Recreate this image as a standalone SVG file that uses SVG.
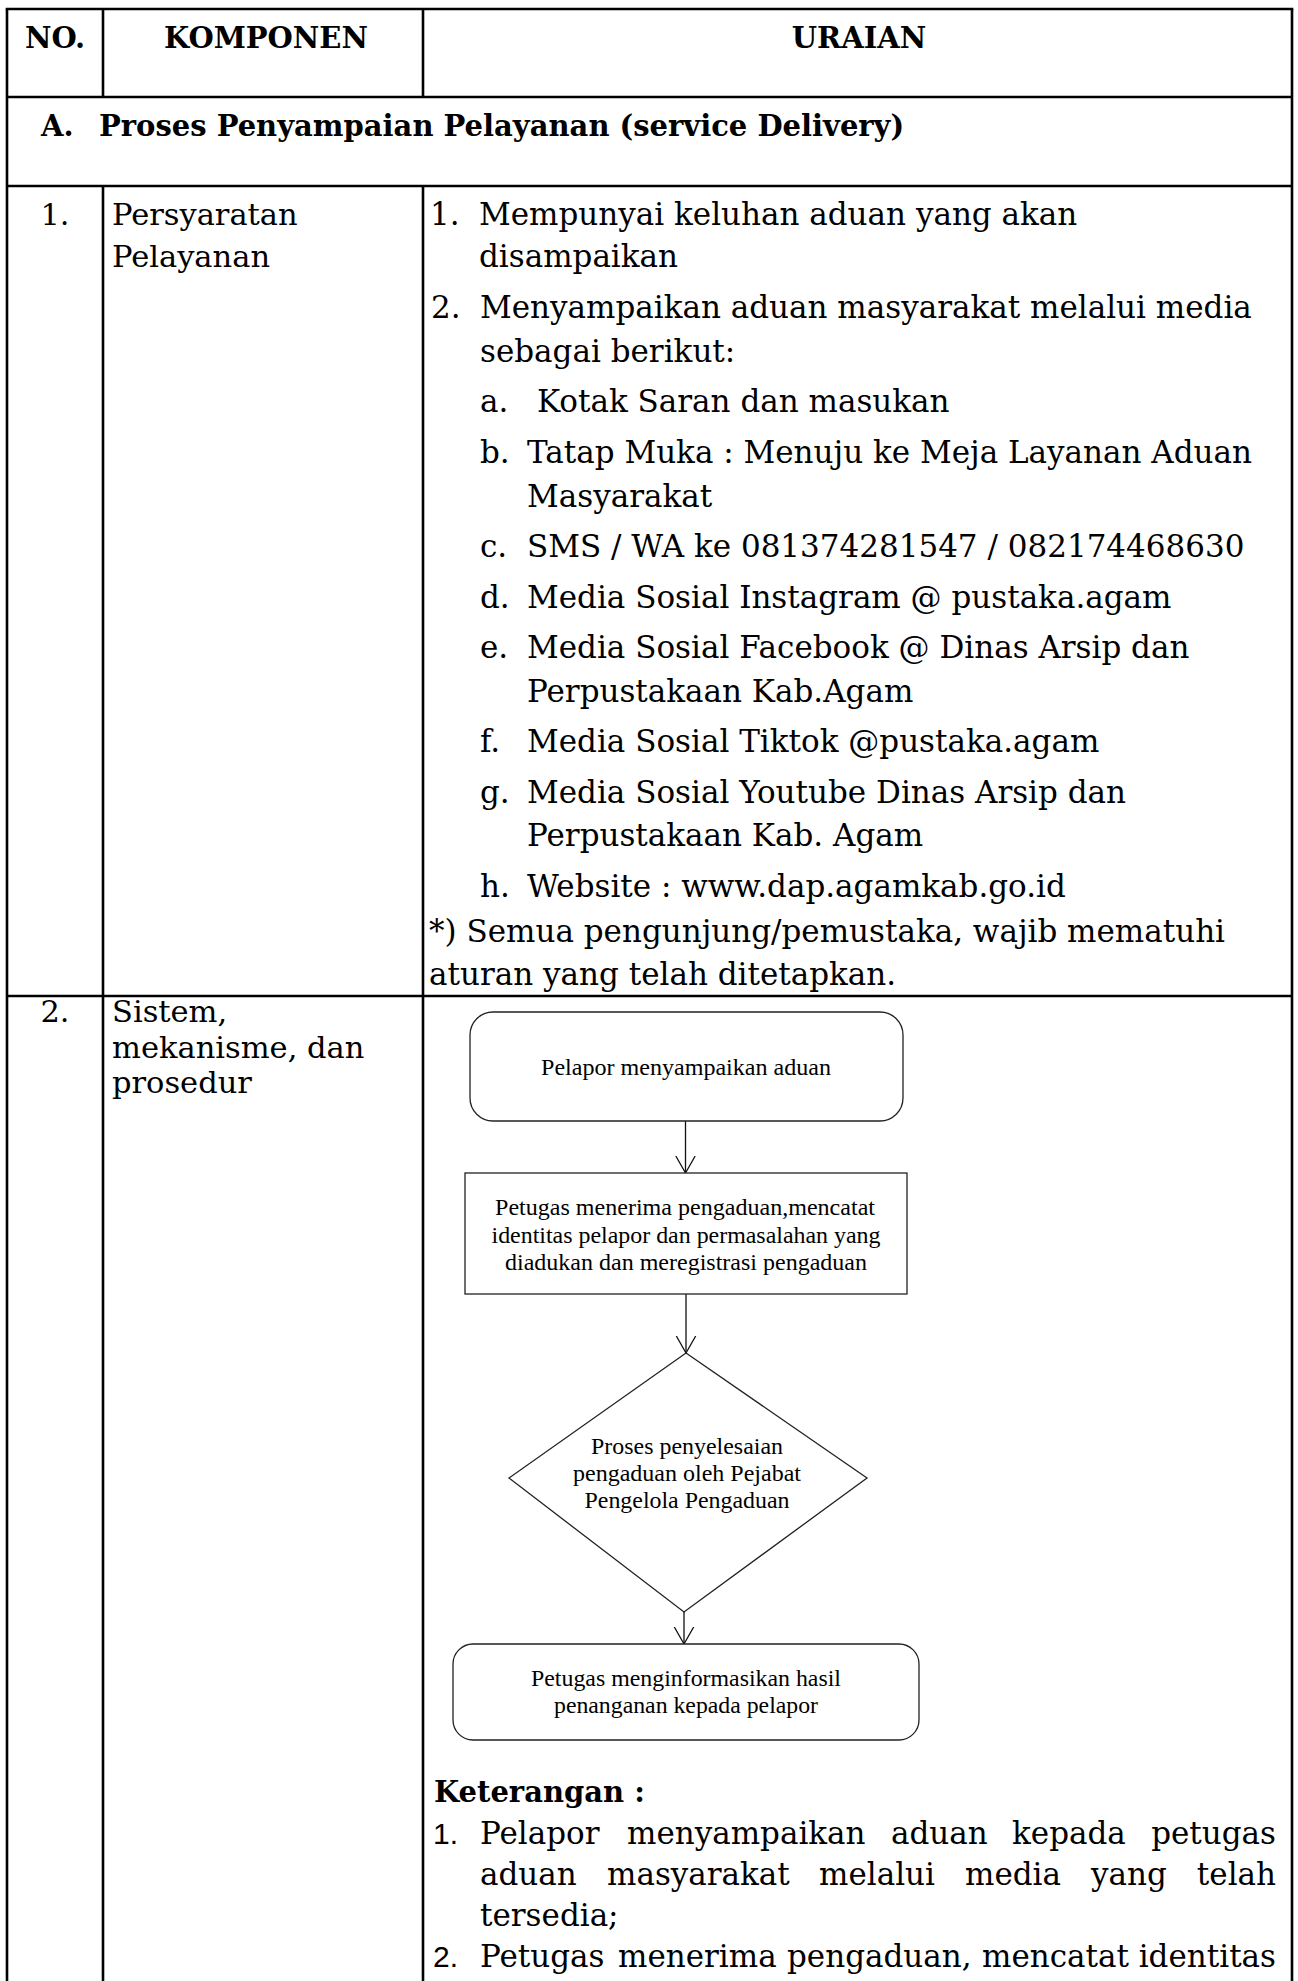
<svg xmlns="http://www.w3.org/2000/svg" width="1298" height="1981" viewBox="0 0 1298 1981">
  <style>
    .grid { stroke: #000; stroke-width: 2.6; fill: none; }
    .t { font-family: "DejaVu Serif", "Liberation Serif", serif; font-size: 31px; fill: #000; }
    .lbl { font-size: 30.5px; }
    .b { font-weight: bold; font-size: 29px; }
    .mid { text-anchor: middle; }
    .end { text-anchor: end; }
    .num { font-family: "Liberation Sans", Arial, sans-serif; font-size: 30px; fill: #000; }
    .fc { font-family: "Liberation Serif", "Times New Roman", serif; font-size: 23.5px; fill: #000; text-anchor: middle; }
    .node { fill: #fff; stroke: #222; stroke-width: 1.3; }
    .edge { stroke: #111; stroke-width: 1.3; fill: none; marker-end: url(#open); }
  </style>
  <defs>
    <marker id="open" markerUnits="userSpaceOnUse" markerWidth="20" markerHeight="22" viewBox="0 0 20 22" refX="17.5" refY="11" orient="auto">
      <path d="M0.5,1.3 L17.5,11 L0.5,20.7" fill="none" stroke="#111" stroke-width="1.3"/>
    </marker>
  </defs>

  <rect width="1298" height="1981" fill="#fff"/>

  <!-- table rules -->
  <g id="table" class="grid">
    <line x1="5.7" y1="9" x2="1293.3" y2="9"/>
    <line x1="7" y1="9" x2="7" y2="1990"/>
    <line x1="1292" y1="9" x2="1292" y2="1990"/>
    <line x1="7" y1="97" x2="1292" y2="97"/>
    <line x1="7" y1="186" x2="1292" y2="186"/>
    <line x1="7" y1="996" x2="1292" y2="996"/>
    <line x1="103" y1="9" x2="103" y2="97"/>
    <line x1="423" y1="9" x2="423" y2="97"/>
    <line x1="103" y1="186" x2="103" y2="1990"/>
    <line x1="423" y1="186" x2="423" y2="1990"/>
  </g>

  <!-- header row -->
  <g id="header" class="t b">
    <text x="55" y="48" class="mid">NO.</text>
    <text x="266" y="48" class="mid">KOMPONEN</text>
    <text x="859" y="48" class="mid">URAIAN</text>
  </g>

  <!-- section heading -->
  <g id="section-a" class="t b">
    <text x="41" y="136">A.</text>
    <text x="99" y="136">Proses Penyampaian Pelayanan (service Delivery)</text>
  </g>

  <!-- row 1: requirements -->
  <g id="row-1" class="t">
    <text x="55" y="225" class="mid lbl">1.</text>
    <text x="112" y="225" class="lbl">Persyaratan</text>
    <text x="112" y="267" class="lbl">Pelayanan</text>

    <text x="430" y="225">1.</text>
    <text x="479" y="225">Mempunyai keluhan aduan yang akan</text>
    <text x="479" y="267">disampaikan</text>

    <text x="431" y="318">2.</text>
    <text x="480" y="318">Menyampaikan aduan masyarakat melalui media</text>
    <text x="480" y="362">sebagai berikut:</text>

    <text x="480" y="412">a.</text>
    <text x="537" y="412">Kotak Saran dan masukan</text>
    <text x="480" y="463">b.</text>
    <text x="527" y="463">Tatap Muka : Menuju ke Meja Layanan Aduan</text>
    <text x="527" y="507">Masyarakat</text>
    <text x="480" y="557">c.</text>
    <text x="527" y="557">SMS / WA ke 081374281547 / 082174468630</text>
    <text x="480" y="608">d.</text>
    <text x="527" y="608">Media Sosial Instagram @ pustaka.agam</text>
    <text x="480" y="658">e.</text>
    <text x="527" y="658">Media Sosial Facebook @ Dinas Arsip dan</text>
    <text x="527" y="702">Perpustakaan Kab.Agam</text>
    <text x="480" y="752">f.</text>
    <text x="527" y="752">Media Sosial Tiktok @pustaka.agam</text>
    <text x="480" y="803">g.</text>
    <text x="527" y="803">Media Sosial Youtube Dinas Arsip dan</text>
    <text x="527" y="846">Perpustakaan Kab. Agam</text>
    <text x="480" y="897">h.</text>
    <text x="527" y="897">Website : www.dap.agamkab.go.id</text>

    <text x="429" y="942">*) Semua pengunjung/pemustaka, wajib mematuhi</text>
    <text x="429" y="985">aturan yang telah ditetapkan.</text>
  </g>

  <!-- row 2: system, mechanism and procedure -->
  <g id="row-2" class="t lbl">
    <text x="55" y="1022" class="mid">2.</text>
    <text x="112" y="1022">Sistem,</text>
    <text x="112" y="1058">mekanisme, dan</text>
    <text x="112" y="1093">prosedur</text>
  </g>

  <!-- flow connectors -->
  <g id="connectors">
    <line class="edge" x1="685.5" y1="1121" x2="685.5" y2="1173"/>
    <line class="edge" x1="686" y1="1294" x2="686" y2="1353"/>
    <line class="edge" x1="684" y1="1612" x2="684" y2="1644"/>
  </g>

  <!-- flow nodes -->
  <g id="node-report">
    <rect class="node" x="470" y="1012" width="433" height="109" rx="23" ry="23"/>
    <text class="fc" x="686" y="1075" textLength="290" lengthAdjust="spacingAndGlyphs">Pelapor menyampaikan aduan</text>
  </g>

  <g id="node-register">
    <rect class="node" x="465" y="1173" width="442" height="121"/>
    <text class="fc" x="685" y="1215" textLength="380" lengthAdjust="spacingAndGlyphs">Petugas menerima pengaduan,mencatat</text>
    <text class="fc" x="686" y="1243" textLength="389" lengthAdjust="spacingAndGlyphs">identitas pelapor dan permasalahan yang</text>
    <text class="fc" x="686" y="1270" textLength="362" lengthAdjust="spacingAndGlyphs">diadukan dan meregistrasi pengaduan</text>
  </g>

  <g id="node-resolve">
    <polygon class="node" points="686,1353 867,1478 684,1612 509,1478"/>
    <text class="fc" x="687" y="1454" textLength="192" lengthAdjust="spacingAndGlyphs">Proses penyelesaian</text>
    <text class="fc" x="687" y="1481" textLength="228" lengthAdjust="spacingAndGlyphs">pengaduan oleh Pejabat</text>
    <text class="fc" x="687" y="1508" textLength="205" lengthAdjust="spacingAndGlyphs">Pengelola Pengaduan</text>
  </g>

  <g id="node-inform">
    <rect class="node" x="453" y="1644" width="466" height="96" rx="20" ry="20"/>
    <text class="fc" x="686" y="1686" textLength="310" lengthAdjust="spacingAndGlyphs">Petugas menginformasikan hasil</text>
    <text class="fc" x="686" y="1713" textLength="264" lengthAdjust="spacingAndGlyphs">penanganan kepada pelapor</text>
  </g>

  <!-- notes under the flow -->
  <g id="notes" class="t">
    <text x="434" y="1802" class="b">Keterangan :</text>

    <text x="433" y="1844" class="num">1.</text>
    <text x="480" y="1844">Pelapor</text>
    <text x="627" y="1844">menyampaikan</text>
    <text x="891" y="1844">aduan</text>
    <text x="1012" y="1844">kepada</text>
    <text x="1276" y="1844" class="end">petugas</text>

    <text x="480" y="1885">aduan</text>
    <text x="607" y="1885">masyarakat</text>
    <text x="819" y="1885">melalui</text>
    <text x="965" y="1885">media</text>
    <text x="1091" y="1885">yang</text>
    <text x="1276" y="1885" class="end">telah</text>

    <text x="480" y="1926">tersedia;</text>

    <text x="433" y="1967" class="num">2.</text>
    <text x="480" y="1967">Petugas</text>
    <text x="618" y="1967">menerima</text>
    <text x="787" y="1967">pengaduan,</text>
    <text x="982" y="1967">mencatat</text>
    <text x="1276" y="1967" class="end">identitas</text>
  </g>
</svg>
